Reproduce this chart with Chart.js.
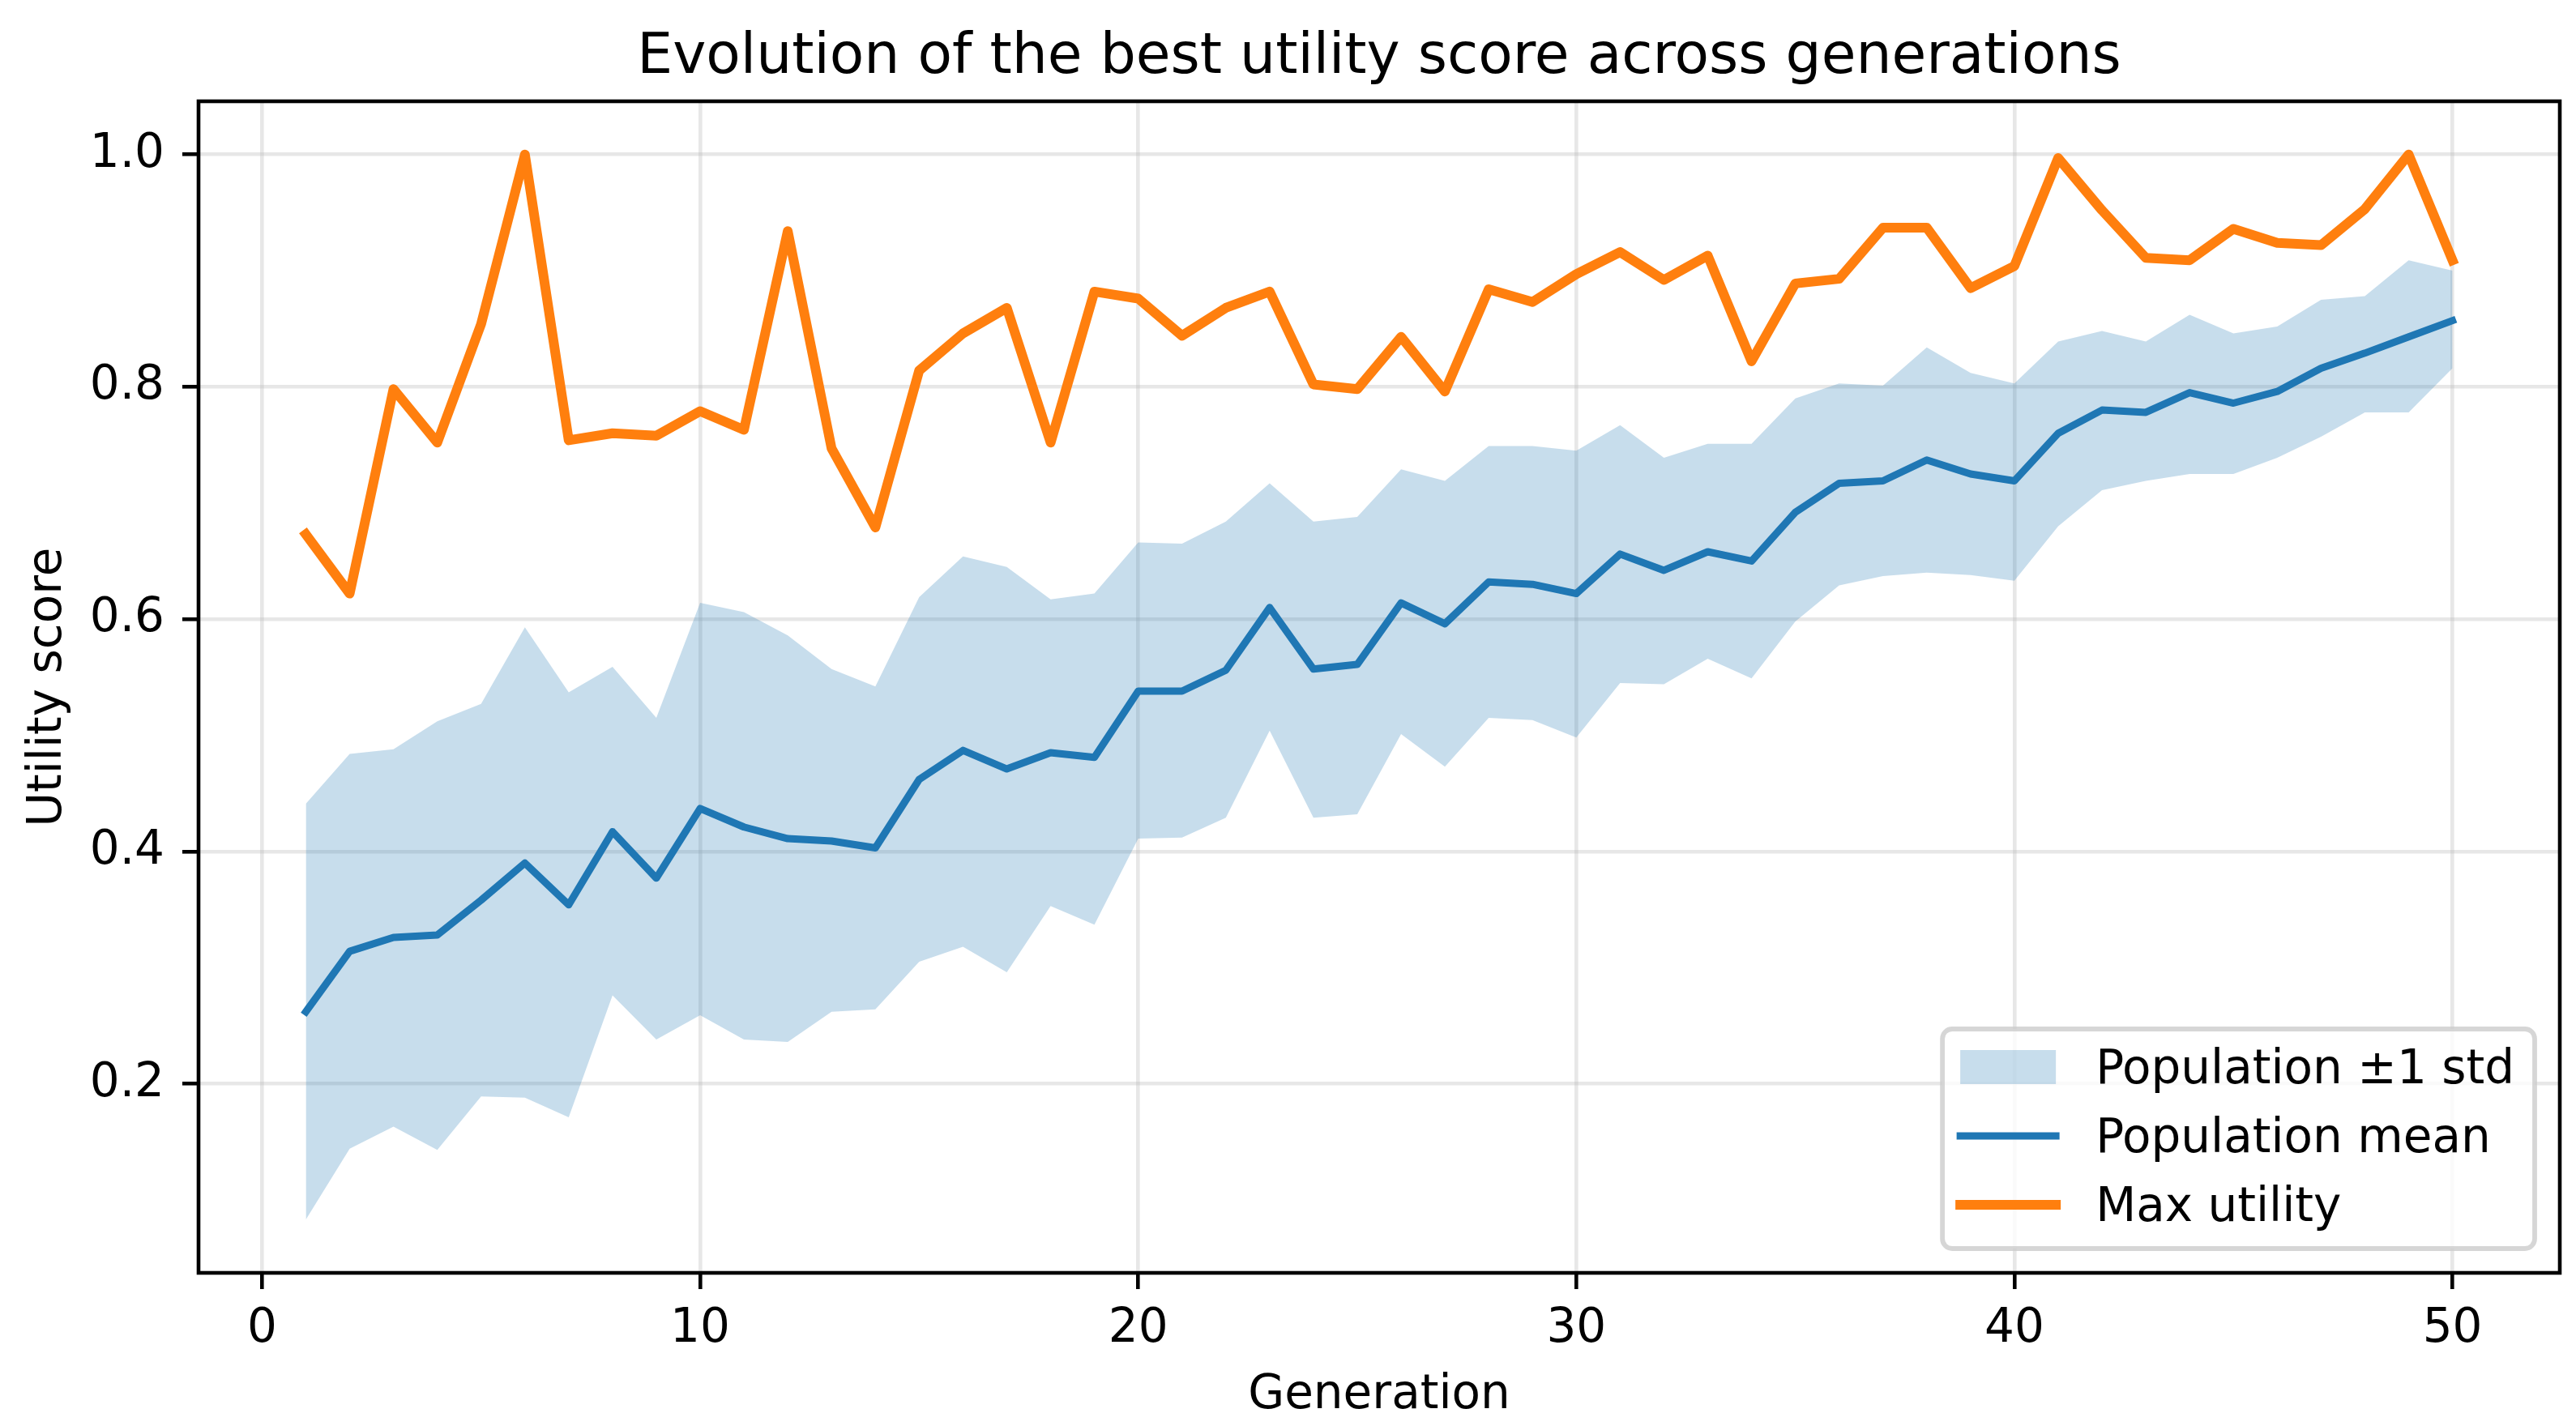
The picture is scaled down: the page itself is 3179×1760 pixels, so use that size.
<!DOCTYPE html>
<html lang="en">
<head>
<meta charset="UTF-8">
<title>Evolution of the best utility score across generations</title>
<style>
  html, body { margin: 0; padding: 0; background: #fff; }
  #wrap { width: 3179px; height: 1760px; }
</style>
</head>
<body>
<div id="wrap"><canvas id="chart"></canvas></div>

<script src="https://cdn.jsdelivr.net/npm/chart.js@4.4.1/dist/chart.umd.min.js"></script>
<script>
    // values
    const generations = [1, 2, 3, 4, 5, 6, 7, 8, 9, 10, 11, 12, 13, 14, 15, 16, 17, 18, 19, 20,
                         21, 22, 23, 24, 25, 26, 27, 28, 29, 30, 31, 32, 33, 34, 35, 36, 37, 38, 39, 40,
                         41, 42, 43, 44, 45, 46, 47, 48, 49, 50];

    const maxUtility = [0.673, 0.622, 0.798, 0.752, 0.854, 1.000, 0.754, 0.760, 0.758, 0.779,
                        0.763, 0.934, 0.747, 0.679, 0.814, 0.846, 0.868, 0.752, 0.882, 0.876,
                        0.844, 0.868, 0.882, 0.802, 0.798, 0.843, 0.796, 0.884, 0.873, 0.897,
                        0.916, 0.892, 0.913, 0.822, 0.889, 0.893, 0.937, 0.937, 0.885, 0.904,
                        0.997, 0.952, 0.911, 0.909, 0.936, 0.924, 0.922, 0.953, 1.000, 0.909];

    const meanUtility = [0.262, 0.314, 0.326, 0.328, 0.358, 0.390, 0.354, 0.417, 0.377, 0.437,
                         0.421, 0.411, 0.409, 0.403, 0.462, 0.487, 0.471, 0.485, 0.481, 0.538,
                         0.538, 0.556, 0.610, 0.557, 0.561, 0.614, 0.596, 0.632, 0.630, 0.622,
                         0.656, 0.642, 0.658, 0.650, 0.692, 0.717, 0.719, 0.737, 0.725, 0.719,
                         0.760, 0.780, 0.778, 0.795, 0.786, 0.796, 0.816, 0.829, 0.843, 0.857];

    const stdUpper = [0.441, 0.484, 0.488, 0.512, 0.527, 0.593, 0.537, 0.559, 0.515, 0.614,
                      0.606, 0.586, 0.557, 0.542, 0.619, 0.654, 0.645, 0.617, 0.622, 0.666,
                      0.665, 0.684, 0.717, 0.684, 0.688, 0.729, 0.719, 0.749, 0.749, 0.745,
                      0.767, 0.739, 0.751, 0.751, 0.790, 0.803, 0.801, 0.834, 0.812, 0.803,
                      0.839, 0.848, 0.839, 0.862, 0.846, 0.852, 0.875, 0.878, 0.909, 0.900];

    const stdLower = [0.083, 0.144, 0.163, 0.143, 0.189, 0.188, 0.171, 0.276, 0.238, 0.259,
                      0.238, 0.236, 0.262, 0.264, 0.305, 0.318, 0.296, 0.353, 0.337, 0.411,
                      0.412, 0.429, 0.504, 0.429, 0.432, 0.501, 0.473, 0.515, 0.513, 0.498,
                      0.545, 0.544, 0.566, 0.549, 0.598, 0.629, 0.637, 0.640, 0.638, 0.633,
                      0.680, 0.711, 0.719, 0.725, 0.725, 0.739, 0.757, 0.778, 0.778, 0.816];

    const xTicks = [0, 10, 20, 30, 40, 50];
    const yTicks = [0.2, 0.4, 0.6, 0.8, 1.0];

    const seriesLabels = ['Population \u00b11 std', 'Population mean', 'Max utility'];

    const FONT = '"DejaVu Sans", "Liberation Sans", sans-serif';
    const BLUE = '#1f77b4';
    const ORANGE = '#ff7f0e';
    const BAND = 'rgba(31, 119, 180, 0.25)';

    function points(ys) {
        return generations.map((g, i) => ({ x: g, y: ys[i] }));
    }

    // matplotlib style 5% margins
    const allY = stdLower.concat(stdUpper, maxUtility, meanUtility);
    const yLo = Math.min(...allY), yHi = Math.max(...allY);
    const xLo = Math.min(...generations), xHi = Math.max(...generations);
    const yPad = (yHi - yLo) * 0.05, xPad = (xHi - xLo) * 0.05;

    /**
     * Box around the plot area (the four spines)
     */
    const framePlugin = {
        id: 'frame',
        afterDatasetsDraw(chart) {
            const { ctx, chartArea: a } = chart;
            ctx.save();
            ctx.strokeStyle = '#000';
            ctx.lineWidth = 4.6;
            ctx.strokeRect(a.left, a.top, a.right - a.left, a.bottom - a.top);
            ctx.restore();
        }
    };

    /**
     * Legend inside the lower right corner, matplotlib look
     */
    const legendPlugin = {
        id: 'innerLegend',
        afterDraw(chart) {
            const { ctx, chartArea: a } = chart;
            const ds = chart.data.datasets;
            const entries = [
                { label: seriesLabels[0], patch: BAND },
                { label: seriesLabels[1], color: ds[2].borderColor, width: ds[2].borderWidth },
                { label: seriesLabels[2], color: ds[3].borderColor, width: ds[3].borderWidth }
            ];
            ctx.save();
            ctx.font = '58px ' + FONT;
            const textW = Math.max(...entries.map(e => ctx.measureText(e.label).width));
            const w = 189 + textW + 25, h = 271;
            const right = a.right - 31, bottom = a.bottom - 30;
            const left = right - w, top = bottom - h;

            ctx.beginPath();
            ctx.roundRect(left, top, w, h, 12);
            ctx.fillStyle = 'rgba(255, 255, 255, 0.8)';
            ctx.fill();
            ctx.lineWidth = 5.8;
            ctx.strokeStyle = 'rgba(204, 204, 204, 0.8)';
            ctx.stroke();

            entries.forEach((e, i) => {
                const cy = top + 47 + i * 85;
                if (e.patch) {
                    ctx.fillStyle = e.patch;
                    ctx.fillRect(left + 22, cy - 21, 118, 42);
                } else {
                    ctx.beginPath();
                    ctx.moveTo(left + 22, cy);
                    ctx.lineTo(left + 140, cy);
                    ctx.lineWidth = e.width;
                    ctx.lineCap = 'square';
                    ctx.strokeStyle = e.color;
                    ctx.stroke();
                }
                ctx.fillStyle = '#000';
                ctx.textAlign = 'left';
                ctx.textBaseline = 'middle';
                ctx.fillText(e.label, left + 189, cy + 5);
            });
            ctx.restore();
        }
    };

    Chart.defaults.font.family = FONT;
    Chart.defaults.color = '#000';

    const gridStyle = {
        color: 'rgba(176, 176, 176, 0.3)',
        lineWidth: 4.6,
        drawTicks: true,
        tickLength: 20,
        tickWidth: 4.6,
        tickColor: '#000'
    };

    new Chart(document.getElementById('chart'), {
        type: 'line',
        data: {
            datasets: [
                {
                    label: seriesLabels[0],
                    data: points(stdUpper),
                    borderWidth: 0,
                    pointRadius: 0,
                    backgroundColor: BAND,
                    fill: '+1',
                    order: 3
                },
                {
                    label: 'lower',
                    data: points(stdLower),
                    borderWidth: 0,
                    pointRadius: 0,
                    fill: false,
                    order: 3
                },
                {
                    label: seriesLabels[1],
                    data: points(meanUtility),
                    borderColor: BLUE,
                    borderWidth: 9,
                    pointRadius: 0,
                    borderJoinStyle: 'round',
                    borderCapStyle: 'square',
                    fill: false,
                    order: 2
                },
                {
                    label: seriesLabels[2],
                    data: points(maxUtility),
                    borderColor: ORANGE,
                    borderWidth: 12,
                    pointRadius: 0,
                    borderJoinStyle: 'round',
                    borderCapStyle: 'square',
                    fill: false,
                    order: 1
                }
            ]
        },
        options: {
            responsive: true,
            maintainAspectRatio: false,
            devicePixelRatio: 1,
            animation: false,
            layout: { padding: { left: 0, right: 20, top: 0, bottom: 0 } },
            plugins: {
                legend: { display: false },
                tooltip: { enabled: false },
                title: {
                    display: true,
                    text: 'Evolution of the best utility score across generations',
                    fullSize: false,
                    font: { size: 69.5, weight: 'normal' },
                    padding: { top: 30, bottom: 11.6 }
                }
            },
            scales: {
                x: {
                    type: 'linear',
                    min: xLo - xPad,
                    max: xHi + xPad,
                    afterBuildTicks: s => { s.ticks = xTicks.map(v => ({ value: v })); },
                    afterFit: s => { s.height = 189; },
                    border: { display: false },
                    grid: gridStyle,
                    ticks: {
                        autoSkip: false,
                        maxRotation: 0,
                        padding: 15,
                        font: { size: 58 },
                        callback: v => String(v)
                    },
                    title: {
                        display: true,
                        text: 'Generation',
                        font: { size: 58 },
                        padding: { top: 0, bottom: 2 }
                    }
                },
                y: {
                    type: 'linear',
                    min: yLo - yPad,
                    max: yHi + yPad,
                    afterBuildTicks: s => { s.ticks = yTicks.map(v => ({ value: v })); },
                    afterFit: s => { s.width = 245; },
                    border: { display: false },
                    grid: gridStyle,
                    ticks: {
                        autoSkip: false,
                        padding: 22,
                        font: { size: 58 },
                        callback: v => Number(v).toFixed(1)
                    },
                    title: {
                        display: true,
                        text: 'Utility score',
                        font: { size: 58 },
                        padding: { top: 25, bottom: 0 }
                    }
                }
            }
        },
        plugins: [framePlugin, legendPlugin]
    });
</script>
</body>
</html>
